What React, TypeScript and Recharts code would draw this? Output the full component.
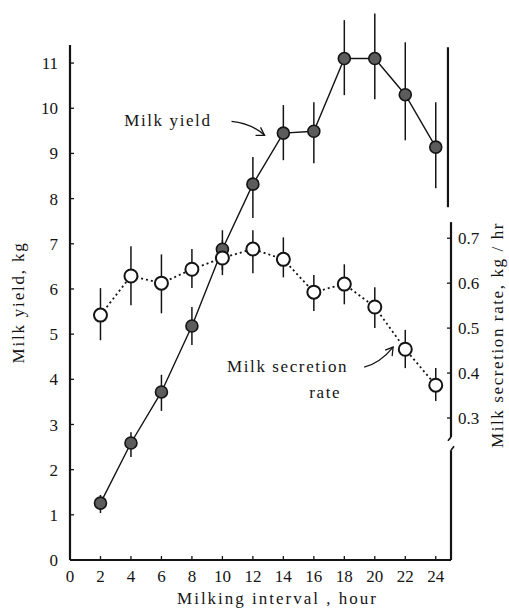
import React from 'react';
import {
  LineChart, Line, XAxis, YAxis, ErrorBar, ReferenceLine, ReferenceDot,
} from 'recharts';

// Milking interval (hour)
const hours = [2, 4, 6, 8, 10, 12, 14, 16, 18, 20, 22, 24];

// Milk yield, kg (mean, low and high ends of the bar)
const milkYield = [1.26, 2.59, 3.72, 5.18, 6.88, 8.32, 9.45, 9.49, 11.1, 11.1, 10.3, 9.14];
const yieldLow = [1.04, 2.28, 3.3, 4.76, 6.42, 7.57, 8.85, 8.78, 10.29, 10.2, 9.29, 8.23];
const yieldHigh = [1.44, 2.83, 4.1, 5.6, 7.3, 8.92, 10.07, 10.13, 11.95, 12.1, 11.46, 10.13];

// Milk secretion rate, kg/hr
const secretionRate = [0.529, 0.616, 0.6, 0.631, 0.656, 0.676, 0.653, 0.58, 0.598, 0.547, 0.453, 0.373];
const rateLow = [0.473, 0.551, 0.533, 0.589, 0.618, 0.622, 0.613, 0.538, 0.553, 0.5, 0.411, 0.338];
const rateHigh = [0.589, 0.682, 0.664, 0.676, 0.695, 0.718, 0.702, 0.618, 0.642, 0.591, 0.496, 0.411];

const xTicks = [0, 2, 4, 6, 8, 10, 12, 14, 16, 18, 20, 22, 24];
const leftTicks = [0, 1, 2, 3, 4, 5, 6, 7, 8, 9, 10, 11];
const rightTicks = [0.3, 0.4, 0.5, 0.6, 0.7];

const data = hours.map((h, i) => ({
  hour: h,
  milkYield: milkYield[i],
  yieldErr: [milkYield[i] - yieldLow[i], yieldHigh[i] - milkYield[i]],
  rate: secretionRate[i],
  rateErr: [secretionRate[i] - rateLow[i], rateHigh[i] - secretionRate[i]],
}));

const INK = '#141414';
const FONT = '"Liberation Serif", "DejaVu Serif", serif';
const tickStyle = { fill: INK, fontSize: 17, fontFamily: FONT };

const FilledDot = (props: any) => {
  const { cx, cy, index } = props;
  return <circle key={`f-${index}`} cx={cx} cy={cy} r={6} fill="#5c5c5c" stroke={INK} strokeWidth={1.6} />;
};

const OpenDot = (props: any) => {
  const { cx, cy, index } = props;
  return <circle key={`o-${index}`} cx={cx} cy={cy} r={6.5} fill="#fff" stroke={INK} strokeWidth={2} />;
};

const YieldNote = (props: any) => {
  const { cx, cy } = props;
  return (
    <g>
      <text x={cx - 20} y={cy + 5} textAnchor="end" fill={INK} fontSize={17} fontFamily={FONT} letterSpacing={1.6}>
        Milk  yield
      </text>
      <path d={`M${cx},${cy} Q${cx + 20},${cy + 2} ${cx + 33},${cy + 14}`} fill="none" stroke={INK} strokeWidth={1.3} />
      <path d={`M${cx + 24},${cy + 14} L${cx + 33},${cy + 14} L${cx + 29},${cy + 6}`} fill="none" stroke={INK} strokeWidth={1.3} />
    </g>
  );
};

const RateNote = (props: any) => {
  const { cx, cy } = props;
  return (
    <g>
      <text x={cx - 16} y={cy + 5} textAnchor="end" fill={INK} fontSize={17} fontFamily={FONT} letterSpacing={1.6}>
        Milk  secretion
      </text>
      <text x={cx - 23} y={cy + 31} textAnchor="end" fill={INK} fontSize={17} fontFamily={FONT} letterSpacing={1.6}>
        rate
      </text>
      <path d={`M${cx},${cy} Q${cx + 16},${cy - 4} ${cx + 29},${cy - 20}`} fill="none" stroke={INK} strokeWidth={1.3} />
      <path d={`M${cx + 21},${cy - 17} L${cx + 29},${cy - 20} L${cx + 28},${cy - 11}`} fill="none" stroke={INK} strokeWidth={1.3} />
    </g>
  );
};

const App: React.FC = () => {
  return (
    <div style={{ position: 'absolute', left: 0, top: 0, width: 509, height: 609, background: '#fff' }}>
      <LineChart width={509} height={609} data={data} margin={{ top: 45, right: 0, bottom: 0, left: 0 }}>
        <XAxis
          dataKey="hour"
          type="number"
          domain={[0, 25]}
          ticks={xTicks}
          interval={0}
          height={49}
          tick={tickStyle}
          tickSize={-4}
          tickMargin={14}
          axisLine={{ stroke: INK, strokeWidth: 2.2 }}
          tickLine={{ stroke: INK, strokeWidth: 1.3 }}
          label={{
            value: 'Milking interval , hour',
            position: 'insideBottom',
            offset: 5,
            dx: 17,
            fill: INK,
            fontSize: 17,
            fontFamily: FONT,
            letterSpacing: 2,
          }}
        />
        <YAxis
          yAxisId="left"
          domain={[0, 11.4]}
          allowDataOverflow
          ticks={leftTicks}
          interval={0}
          width={70}
          tick={tickStyle}
          tickSize={-4}
          tickMargin={16}
          axisLine={{ stroke: INK, strokeWidth: 2.2 }}
          tickLine={{ stroke: INK, strokeWidth: 1.3 }}
          label={({ viewBox }: any) => {
            const x = viewBox.x + 18;
            const y = viewBox.y + viewBox.height / 2;
            return (
              <text x={x} y={y} transform={`rotate(-90 ${x} ${y})`} textAnchor="middle" dominantBaseline="central"
                fill={INK} fontSize={17} fontFamily={FONT} letterSpacing={1.8}>
                Milk  yield,  kg
              </text>
            );
          }}
        />
        <YAxis
          yAxisId="right"
          orientation="right"
          domain={[-0.016, 1.13]}
          allowDataOverflow
          ticks={rightTicks}
          interval={0}
          width={58}
          tick={tickStyle}
          tickFormatter={(v: number) => v.toFixed(1)}
          tickSize={-4}
          tickMargin={11}
          axisLine={false}
          tickLine={{ stroke: INK, strokeWidth: 1.3 }}
          label={({ viewBox }: any) => {
            const x = viewBox.x + 46;
            const y = 335;
            return (
              <text x={x} y={y} transform={`rotate(-90 ${x} ${y})`} textAnchor="middle" dominantBaseline="central"
                fill={INK} fontSize={17} fontFamily={FONT} letterSpacing={1.6}>
                Milk  secretion  rate,  kg / hr
              </text>
            );
          }}
        />

        {/* broken right-hand axis line */}
        <ReferenceLine yAxisId="left" segment={[{ x: 25, y: 0 }, { x: 25, y: 2.43 }]} stroke={INK} strokeWidth={2.2} ifOverflow="visible" />
        <ReferenceLine yAxisId="left" segment={[{ x: 25, y: 2.43 }, { x: 25.2, y: 2.52 }]} stroke={INK} strokeWidth={1.6} ifOverflow="visible" />
        <ReferenceLine yAxisId="left" segment={[{ x: 25, y: 2.72 }, { x: 25, y: 7.48 }]} stroke={INK} strokeWidth={2.2} ifOverflow="visible" />
        <ReferenceLine yAxisId="left" segment={[{ x: 25, y: 2.72 }, { x: 24.8, y: 2.64 }]} stroke={INK} strokeWidth={1.6} ifOverflow="visible" />
        <ReferenceLine yAxisId="left" segment={[{ x: 24.8, y: 7.81 }, { x: 24.8, y: 11.35 }]} stroke={INK} strokeWidth={2.2} ifOverflow="visible" />

        <Line
          yAxisId="left"
          dataKey="milkYield"
          stroke={INK}
          strokeWidth={1.4}
          dot={<FilledDot />}
          isAnimationActive={false}
        >
          <ErrorBar dataKey="yieldErr" direction="y" width={0} stroke={INK} strokeWidth={1.5} />
        </Line>
        <Line
          yAxisId="right"
          dataKey="rate"
          stroke={INK}
          strokeWidth={1.8}
          strokeDasharray="2 3"
          dot={<OpenDot />}
          isAnimationActive={false}
        >
          <ErrorBar dataKey="rateErr" direction="y" width={0} stroke={INK} strokeWidth={1.5} />
        </Line>

        <ReferenceDot yAxisId="left" x={10.6} y={9.71} r={0} shape={<YieldNote />} ifOverflow="visible" />
        <ReferenceDot yAxisId="left" x={19.3} y={4.27} r={0} shape={<RateNote />} ifOverflow="visible" />
      </LineChart>
    </div>
  );
};

export default App;
